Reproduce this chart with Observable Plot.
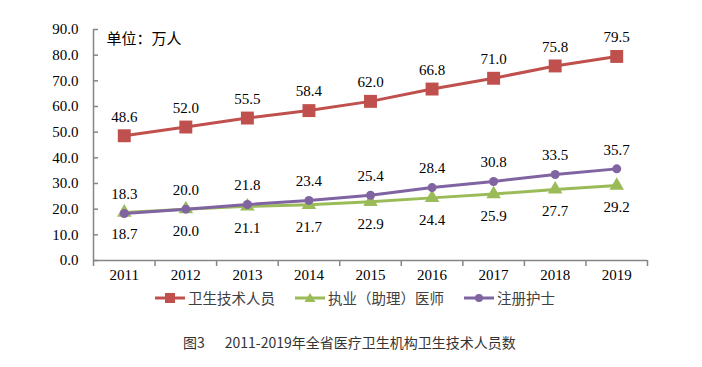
<!DOCTYPE html>
<html><head><meta charset="utf-8">
<script src="https://cdn.jsdelivr.net/npm/d3@7"></script>
<script src="https://cdn.jsdelivr.net/npm/@observablehq/plot@0.6"></script>
<style>
body{margin:0;background:#fff;width:702px;height:367px;position:relative;overflow:hidden;font-family:"Noto Sans CJK SC","Noto Sans",sans-serif}
#chart{position:absolute;left:0;top:0}
#legend{position:absolute;top:287px;left:155px;display:flex;align-items:center;font-size:14.5px;color:#404040;white-space:nowrap}
#legend .item{display:flex;align-items:center;margin-right:20px}
#legend svg{display:block;margin-right:2px}
#caption{position:absolute;top:332px;left:183px;font-size:14px;color:#333;white-space:nowrap}
#caption span.fig{margin-right:20px}
</style></head>
<body>
<div id="chart"></div>
<div id="legend"></div>
<div id="caption"></div>
<script>
const years = [2011, 2012, 2013, 2014, 2015, 2016, 2017, 2018, 2019];
const techStaff = [48.6, 52.0, 55.5, 58.4, 62.0, 66.8, 71.0, 75.8, 79.5];
const doctors = [18.7, 20.0, 21.1, 21.7, 22.9, 24.4, 25.9, 27.7, 29.2];
const nurses = [18.3, 20.0, 21.8, 23.4, 25.4, 28.4, 30.8, 33.5, 35.7];
const yTicks = [0, 10, 20, 30, 40, 50, 60, 70, 80, 90];
const seriesNames = ["卫生技术人员", "执业（助理）医师", "注册护士"];
const colors = ["#C0504D", "#9BBB59", "#8064A2"];
const unitLabel = "单位：万人";
const captionFig = "图3";
const captionText = "2011-2019年全省医疗卫生机构卫生技术人员数";

const mk = vals => years.map((y, i) => ({year: y, value: vals[i]}));
const red = mk(techStaff), green = mk(doctors), purple = mk(nurses);
const bounds = d3.range(years[0] - 0.5, years[years.length - 1] + 1, 1);
const serif = "'Times New Roman','Liberation Serif',serif";

const plot = Plot.plot({
  width: 702, height: 288,
  marginLeft: 93, marginRight: 55, marginTop: 29, marginBottom: 28,
  style: {fontFamily: serif, fontSize: "15px", color: "#000", background: "#fff"},
  x: {type: "linear", domain: [years[0] - 0.5, years[years.length - 1] + 0.5], label: null},
  y: {domain: [0, 90], label: null},
  marks: [
    Plot.axisY({ticks: yTicks, tickFormat: d => d.toFixed(1), tickSize: 0, tickPadding: 15, fontSize: 15, fill: "#000", label: null}),
    Plot.tickY(yTicks, {y: d => d, stroke: "#868686", strokeWidth: 1.5, render: (index, scales, values, dims, ctx, next) => {
      const g = next(index, scales, values, dims, ctx);
      d3.select(g).selectAll("line").attr("x1", dims.marginLeft).attr("x2", dims.marginLeft + 5);
      return g;
    }}),
    Plot.axisX({ticks: years, tickFormat: d => String(d), tickSize: 0, tickPadding: 9, fontSize: 15, fill: "#000", label: null}),
    Plot.axisX({ticks: bounds, tickFormat: () => "", tickSize: 6, stroke: "#868686", strokeWidth: 1.5, label: null}),
    Plot.ruleX([bounds[0]], {stroke: "#868686", strokeWidth: 1.5}),
    Plot.ruleY([0], {stroke: "#868686", strokeWidth: 1.5}),
    Plot.line(red, {x: "year", y: "value", stroke: colors[0], strokeWidth: 3}),
    Plot.dot(red, {x: "year", y: "value", symbol: "square", r: 7.3, fill: colors[0], stroke: null}),
    Plot.line(green, {x: "year", y: "value", stroke: colors[1], strokeWidth: 3}),
    Plot.dot(green, {x: "year", y: "value", symbol: "triangle", r: 5.4, fill: colors[1], stroke: null}),
    Plot.line(purple, {x: "year", y: "value", stroke: colors[2], strokeWidth: 3}),
    Plot.dot(purple, {x: "year", y: "value", r: 4.5, fill: colors[2], stroke: null}),
    Plot.text(red, {x: "year", y: "value", text: d => d.value.toFixed(1), dy: -19, fontSize: 15, fill: "#000"}),
    Plot.text(purple, {x: "year", y: "value", text: d => d.value.toFixed(1), dy: -19, fontSize: 15, fill: "#000"}),
    Plot.text(green, {x: "year", y: "value", text: d => d.value.toFixed(1), dy: 22, fontSize: 15, fill: "#000"}),
    Plot.text([unitLabel], {frameAnchor: "top-left", text: d => d, dx: 13, dy: 4, fontSize: 15, fill: "#000",
      fontFamily: "'Noto Sans CJK SC',sans-serif", textAnchor: "start", lineAnchor: "top"})
  ]
});
document.getElementById("chart").appendChild(plot);

// legend
const symbols = ["square", "triangle", "circle"];
const legend = document.getElementById("legend");
seriesNames.forEach((name, i) => {
  const item = document.createElement("div");
  item.className = "item";
  let marker;
  if (symbols[i] === "square") marker = `<rect x="10" y="4" width="10" height="10" fill="${colors[i]}"/>`;
  else if (symbols[i] === "triangle") marker = `<path d="M15,4 L20.5,13 L9.5,13 Z" fill="${colors[i]}"/>`;
  else marker = `<circle cx="15" cy="9" r="4" fill="${colors[i]}"/>`;
  item.innerHTML = `<svg width="31" height="18"><line x1="0" x2="30" y1="9" y2="9" stroke="${colors[i]}" stroke-width="3"/>${marker}</svg><span>${name}</span>`;
  legend.appendChild(item);
});
const cap = document.getElementById("caption");
const f = document.createElement("span"); f.className = "fig"; f.textContent = captionFig;
const t = document.createElement("span"); t.textContent = captionText;
cap.appendChild(f); cap.appendChild(t);
</script>
</body></html>
